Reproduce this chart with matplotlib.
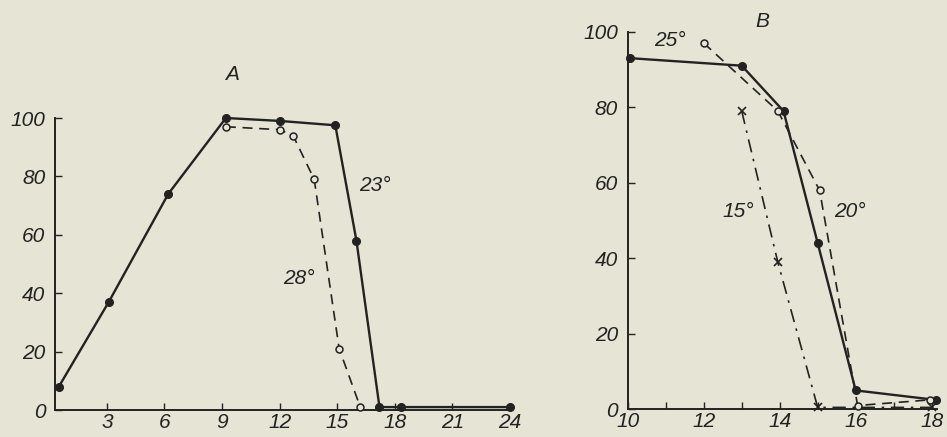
import matplotlib
matplotlib.use("Agg")
import matplotlib.pyplot as plt

# ---- Panel A data ----
a_x_23 = [0.5, 3.1, 6.2, 9.2, 12.0, 14.9, 16.0, 17.2, 18.3, 24.0]
a_y_23 = [8, 37, 74, 100, 99, 97.5, 58, 1, 1, 1]
a_x_28 = [9.2, 12.0, 12.7, 13.8, 15.1, 16.2]
a_y_28 = [97, 96, 94, 79, 21, 1]
a_xticks = [3, 6, 9, 12, 15, 18, 21, 24]
a_yticks = [0, 20, 40, 60, 80, 100]

# ---- Panel B data ----
b_x_solid = [10.05, 13.0, 14.1, 15.0, 16.0, 18.1]
b_y_solid = [93, 91, 79, 44, 5, 2.5]
b_x_dash = [12.0, 13.95, 15.05, 16.05, 17.95]
b_y_dash = [97, 79, 58, 1, 2.5]
b_x_dd = [13.0, 13.95, 15.0, 18.0]
b_y_dd = [79, 39, 0.5, 0.5]
b_xticks = [10, 12, 14, 16, 18]
b_yticks = [0, 20, 40, 60, 80, 100]

W, H = 947, 437
bg = '#e6e4d5'
ink = '#222222'
FS = 15
plt.rcParams['font.family'] = ['Liberation Sans', 'DejaVu Sans']
fig = plt.figure(figsize=(W / 100, H / 100), dpi=100, facecolor=bg)


def make_ax(left, right, top, bottom):
    return fig.add_axes([left / W, (H - bottom) / H, (right - left) / W, (bottom - top) / H])


def style(ax, xticks, yticks):
    ax.set_facecolor(bg)
    for s in ['top', 'right']:
        ax.spines[s].set_visible(False)
    for s in ['left', 'bottom']:
        ax.spines[s].set_color(ink)
        ax.spines[s].set_linewidth(1.4)
    ax.set_xticks(xticks)
    ax.set_yticks(yticks)
    ax.tick_params(direction='in', length=5, width=1.0, color=ink, labelsize=FS,
                   labelcolor=ink)
    ax.tick_params(axis='y', pad=7)
    ax.tick_params(axis='x', pad=2)
    for lab in ax.get_xticklabels() + ax.get_yticklabels():
        lab.set_fontstyle('italic')


# Panel A
axA = make_ax(55, 55 + 23.8 * 19.2, 118, 410)
axA.set_xlim(0.3, 24.1)
axA.set_ylim(0, 100)
style(axA, a_xticks, a_yticks)
axA.plot(a_x_23, a_y_23, '-', color=ink, lw=1.7, marker='o', ms=5.5,
         mfc=ink, mec=ink, clip_on=False, zorder=3)
axA.plot(a_x_28, a_y_28, color=ink, lw=1.2, ls=(0, (6, 4)), marker='o', ms=5,
         mfc=bg, mec=ink, mew=1.1, clip_on=False, zorder=4)
axA.text(9.5, 115, 'A', fontsize=FS, style='italic', ha='center', va='center', color=ink)
axA.text(16.97, 77, '23°', fontsize=FS, style='italic', ha='center', va='center', color=ink)
axA.text(13.0, 45, '28°', fontsize=FS, style='italic', ha='center', va='center', color=ink)

# Panel B
axB = make_ax(627.7, 627.7 + 8.15 * 38, 31.7, 409.3)
axB.set_xlim(10, 18.15)
axB.set_ylim(0, 100)
style(axB, b_xticks, b_yticks)
axB.set_xticks([11, 13, 15, 17], minor=True)
axB.tick_params(which='minor', direction='in', length=5, width=1.0, color=ink)
axB.plot(b_x_solid, b_y_solid, '-', color=ink, lw=1.7, marker='o', ms=5.5,
         mfc=ink, mec=ink, clip_on=False, zorder=3)
axB.plot(b_x_dash, b_y_dash, color=ink, lw=1.2, ls=(0, (6, 4)), marker='o', ms=5,
         mfc=bg, mec=ink, mew=1.1, clip_on=False, zorder=4)
axB.plot(b_x_dd, b_y_dd, color=ink, lw=1.2, ls=(0, (8, 4, 1.5, 4)), marker='x', ms=6,
         mec=ink, mew=1.2, clip_on=False, zorder=4)
axB.text(13.53, 102.6, 'B', fontsize=FS, style='italic', ha='center', va='center', color=ink)
axB.text(11.1, 97.8, '25°', fontsize=FS, style='italic', ha='center', va='center', color=ink)
axB.text(12.9, 52.3, '15°', fontsize=FS, style='italic', ha='center', va='center', color=ink)
axB.text(15.85, 52.3, '20°', fontsize=FS, style='italic', ha='center', va='center', color=ink)

fig.savefig('out.png', dpi=100, facecolor=bg)
